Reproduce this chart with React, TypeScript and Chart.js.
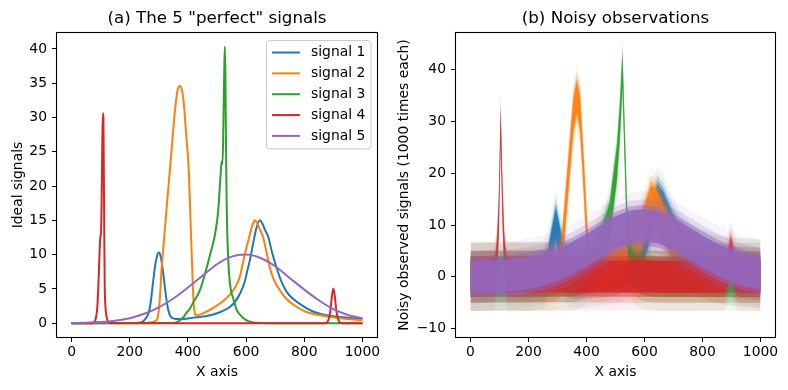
import React, { useEffect, useRef } from "react";
import { Chart, registerables } from "chart.js";

Chart.register(...registerables);

const FONT = "'DejaVu Sans', sans-serif";
const TICK_SIZE = 13.9;
const TITLE_SIZE = 16.7;
const COLORS = ["#1f77b4", "#ff7f0e", "#2ca02c", "#d62728", "#9467bd"];
const signalLabels = ["signal 1", "signal 2", "signal 3", "signal 4", "signal 5"];

const xTicks = [0, 200, 400, 600, 800, 1000];
const yTicksIdeal = [0, 5, 10, 15, 20, 25, 30, 35, 40];
const yTicksNoisy = [-10, 0, 10, 20, 30, 40];

// ---------- (a) ideal signals ----------
const sig1X = [0, 200, 230, 245, 255, 265, 272, 280, 287, 294, 300, 306, 312, 318, 325, 332, 340, 350, 360, 380, 400, 430, 460, 490, 520, 545, 565, 580, 595, 605, 613, 625, 635, 647, 655, 665, 676, 690, 704, 720, 739, 760, 796, 830, 860, 900, 950, 1000];
const sig1Y = [0, 0.02, 0.05, 0.25, 0.7, 1.5, 3.0, 5.9, 8.3, 9.8, 10.3, 9.8, 8.3, 6.3, 3.8, 2.0, 1.0, 0.7, 0.6, 0.6, 0.7, 0.85, 1.0, 1.3, 1.8, 2.4, 3.3, 4.4, 6.0, 7.8, 9.2, 11.8, 13.8, 15.0, 14.6, 13.6, 12.6, 10.2, 8.2, 6.2, 4.6, 3.6, 2.5, 1.7, 1.3, 1.0, 0.8, 0.6];

const sig2X = [0, 230, 270, 285, 292, 297, 302, 306, 309, 316, 323, 330, 338, 348, 358, 365, 372, 379, 386, 394, 403, 409, 415, 419, 423, 428, 440, 460, 490, 520, 545, 565, 580, 590, 600, 612, 622, 630, 638, 648, 658, 670, 681, 695, 716, 740, 773, 810, 850, 890, 940, 1000];
const sig2Y = [0, 0.02, 0.1, 0.25, 0.45, 1.0, 2.8, 5.2, 7.7, 11.2, 14.8, 18.4, 22.3, 27.5, 32, 34.1, 34.6, 34.1, 32, 27.5, 22.3, 15, 7.7, 3.5, 1.6, 1.15, 1.25, 1.6, 2.3, 3.2, 4.2, 5.4, 7.0, 9.0, 10.8, 12.8, 14.3, 15.0, 14.6, 13.6, 12.6, 10.4, 8.2, 6.4, 4.8, 3.5, 2.4, 1.6, 1.2, 0.9, 0.65, 0.45];

const sig3X = [0, 340, 360, 372, 385, 395, 405, 418, 441, 464, 475, 492, 504, 512, 516, 519, 522, 525, 527, 529, 531, 533, 535, 538, 541, 545, 550, 556, 567, 578, 600, 620, 660, 700, 1000];
const sig3Y = [0, 0.02, 0.1, 0.4, 0.9, 1.5, 2.0, 3.0, 4.8, 8.0, 9.8, 12.7, 16.3, 21.4, 23.6, 23.2, 29, 37, 40.3, 36, 26, 18, 13.5, 10, 7.5, 5.6, 4.4, 3.6, 2.0, 1.3, 0.45, 0.15, 0.03, 0, 0];

const sig4X = [0, 70, 76, 82, 86, 89, 91.5, 94, 96, 98, 100, 102, 104, 106, 108, 109.5, 111, 112.5, 114, 116, 119, 123, 128, 135, 870, 878, 884, 890, 895, 900, 905, 910, 916, 922, 930, 1000];
const sig4Y = [0, 0, 0.1, 0.5, 1.3, 2.6, 4.8, 7.5, 10, 12, 12.8, 14, 20, 27, 30.6, 30, 22, 13, 5.5, 2.8, 1.3, 0.5, 0.15, 0, 0, 0.1, 0.6, 1.9, 3.9, 5.05, 3.9, 1.9, 0.6, 0.1, 0, 0];

const sig5X = [0, 50, 100, 150, 200, 250, 300, 350, 400, 450, 500, 550, 600, 650, 700, 750, 800, 850, 900, 950, 1000];
const sig5Y = [0.03, 0.07, 0.17, 0.36, 0.73, 1.37, 2.3, 3.6, 5.2, 6.9, 8.6, 9.7, 10.0, 9.5, 8.3, 6.6, 4.9, 3.35, 2.05, 1.2, 0.7];

// ---------- (b) noisy observations: centre lines ----------
const nz1X = [0, 200, 250, 267, 280, 294, 308, 324, 340, 360, 400, 450, 500, 540, 580, 610, 630, 645, 665, 690, 720, 760, 800, 860, 920, 1000];
const nz1Y = [0, 0.02, 0.3, 1.9, 6.0, 10.2, 6.5, 1.9, 0.8, 0.6, 0.7, 0.95, 1.4, 2.3, 4.4, 8.5, 12.2, 14.7, 13.2, 9.8, 6.2, 3.7, 2.5, 1.4, 0.95, 0.6];

const nz2X = [0, 260, 290, 305, 313, 335, 355, 367, 378, 392, 404, 412, 430, 470, 510, 550, 585, 605, 622, 640, 665, 690, 720, 780, 850, 920, 1000];
const nz2Y = [0, 0.05, 0.3, 1.5, 3.2, 18, 31.5, 34.8, 31.5, 18, 5.1, 1.5, 1.3, 1.9, 3.0, 4.6, 8.0, 11.5, 14.5, 13.8, 10.5, 7.5, 5.0, 2.6, 1.3, 0.8, 0.45];

const nz3X = [0, 360, 390, 420, 450, 480, 505, 515, 524, 532, 540, 548, 560, 580, 610, 650, 1000];
const nz3Y = [0, 0.1, 0.8, 2.5, 6.0, 11.0, 22.0, 30.0, 40.0, 25.0, 10.0, 3.5, 1.5, 0.7, 0.2, 0, 0];

const nz4X = [0, 80, 88, 93, 98, 104, 110, 116, 122, 130, 870, 880, 890, 897, 905, 915, 925, 1000];
const nz4Y = [0, 0.2, 1.5, 5.6, 12.5, 29.5, 15, 5, 1, 0.1, 0, 0.3, 2.2, 4.4, 2.6, 0.5, 0, 0];

const nz5X = [0, 50, 100, 150, 200, 250, 300, 350, 400, 450, 500, 550, 600, 650, 700, 750, 800, 850, 900, 950, 1000];
const nz5Y = [0.03, 0.07, 0.17, 0.36, 0.73, 1.37, 2.3, 3.6, 5.2, 6.9, 8.6, 9.7, 10.0, 9.5, 8.3, 6.6, 4.9, 3.35, 2.05, 1.2, 0.7];

// half-widths of the noise cloud, from sparse fringe to dense core, with opacity
const noiseHalfWidths = [6.6, 5.0, 3.9, 3.1];
const noiseAlphas = [0.08, 0.2, 0.45, 0.9];

function pts(xs: number[], ys: number[]) {
  return xs.map((x, i) => ({ x, y: ys[i] }));
}

function rgba(hex: string, a: number) {
  const n = parseInt(hex.slice(1), 16);
  return `rgba(${(n >> 16) & 255},${(n >> 8) & 255},${n & 255},${a})`;
}

const framePlugin = {
  id: "frameBox",
  afterDatasetsDraw(chart: any) {
    const { ctx, chartArea: a } = chart;
    ctx.save();
    ctx.strokeStyle = "#000";
    ctx.lineWidth = 1.1;
    const l = Math.round(a.left) - 0.5;
    const t = Math.round(a.top) - 0.5;
    const r = Math.round(a.right) + 0.5;
    const b = Math.round(a.bottom) + 0.5;
    ctx.strokeRect(l, t, r - l, b - t);
    ctx.restore();
  },
};

const legendBoxPlugin = {
  id: "legendBox",
  afterDraw(chart: any, _args: any, opts: any) {
    if (!opts || !opts.show) return;
    const { ctx, chartArea } = chart;
    const fs = TICK_SIZE;
    const labels: string[] = opts.labels;
    const colors: string[] = opts.colors;
    ctx.save();
    ctx.font = `${fs}px ${FONT}`;
    const tw = Math.max(...labels.map((l) => ctx.measureText(l).width));
    const pad = 0.4 * fs, hl = 2 * fs, htp = 0.8 * fs, ls = 0.5 * fs;
    const w = pad + hl + htp + tw + pad;
    const h = 2 * pad + labels.length * fs + (labels.length - 1) * ls;
    const x0 = Math.round(chartArea.right - 0.5 * fs - w) + 0.5;
    const y0 = Math.round(chartArea.top + 0.5 * fs) + 0.5;
    const r = 3;
    ctx.beginPath();
    ctx.moveTo(x0 + r, y0);
    ctx.lineTo(x0 + w - r, y0);
    ctx.arcTo(x0 + w, y0, x0 + w, y0 + r, r);
    ctx.lineTo(x0 + w, y0 + h - r);
    ctx.arcTo(x0 + w, y0 + h, x0 + w - r, y0 + h, r);
    ctx.lineTo(x0 + r, y0 + h);
    ctx.arcTo(x0, y0 + h, x0, y0 + h - r, r);
    ctx.lineTo(x0, y0 + r);
    ctx.arcTo(x0, y0, x0 + r, y0, r);
    ctx.closePath();
    ctx.fillStyle = "rgba(255,255,255,0.8)";
    ctx.fill();
    ctx.strokeStyle = "#cccccc";
    ctx.lineWidth = 1;
    ctx.stroke();
    labels.forEach((lab, i) => {
      const y = y0 + pad + i * (fs + ls) + fs / 2 - 0.5;
      ctx.strokeStyle = colors[i];
      ctx.lineWidth = 2;
      ctx.beginPath();
      ctx.moveTo(x0 + pad, y);
      ctx.lineTo(x0 + pad + hl, y);
      ctx.stroke();
      ctx.fillStyle = "#000";
      ctx.textBaseline = "middle";
      ctx.textAlign = "left";
      ctx.fillText(lab, x0 + pad + hl + htp, y);
    });
    ctx.restore();
  },
};

const minusFmt = (v: any) => String(v).replace("-", "\u2212");

function makeScales(yMin: number, yMax: number, yTicks: number[], yTitle: string, yWidth: number, yTitlePad: number) {
  const gridCommon = {
    display: true,
    drawOnChartArea: false,
    drawTicks: true,
    tickLength: 5,
    color: "#000",
    lineWidth: 1,
  };
  return {
    x: {
      type: "linear",
      min: -50,
      max: 1050,
      afterBuildTicks: (s: any) => {
        s.ticks = xTicks.map((v) => ({ value: v }));
      },
      afterFit: (s: any) => {
        s.height = 53;
      },
      grid: gridCommon,
      border: { display: false },
      ticks: { color: "#000", padding: 2.5, font: { family: FONT, size: TICK_SIZE }, maxRotation: 0, autoSkip: false, callback: minusFmt },
      title: { display: true, text: "X axis", color: "#000", font: { family: FONT, size: TICK_SIZE }, padding: { top: 0, bottom: 9.2 } },
    },
    y: {
      type: "linear",
      min: yMin,
      max: yMax,
      afterBuildTicks: (s: any) => {
        s.ticks = yTicks.map((v) => ({ value: v }));
      },
      afterFit: (s: any) => {
        s.width = yWidth;
      },
      grid: gridCommon,
      border: { display: false },
      ticks: { color: "#000", padding: 5, font: { family: FONT, size: TICK_SIZE }, autoSkip: false, callback: minusFmt },
      title: { display: true, text: yTitle, color: "#000", font: { family: FONT, size: TICK_SIZE }, padding: { top: yTitlePad, bottom: 0 } },
    },
  };
}

function idealConfig(): any {
  const sets = [
    pts(sig1X, sig1Y),
    pts(sig2X, sig2Y),
    pts(sig3X, sig3Y),
    pts(sig4X, sig4Y),
    pts(sig5X, sig5Y),
  ];
  return {
    type: "line",
    data: {
      datasets: sets.map((d, i) => ({
        label: signalLabels[i],
        data: d,
        borderColor: COLORS[i],
        backgroundColor: COLORS[i],
        borderWidth: 2,
        pointRadius: 0,
        cubicInterpolationMode: "monotone",
        fill: false,
        order: 10 - i,
      })),
    },
    options: {
      animation: false,
      responsive: false,
      maintainAspectRatio: false,
      layout: { padding: { left: 0, right: 17, top: 0, bottom: 0 } },
      plugins: {
        legend: { display: false },
        tooltip: { enabled: false },
        title: {
          display: true,
          text: '(a) The 5 "perfect" signals',
          color: "#000",
          font: { family: FONT, size: TITLE_SIZE, weight: "normal" },
          padding: { top: 8.5, bottom: 4.5 },
          fullSize: false,
        },
        legendBox: { show: true, labels: signalLabels, colors: COLORS },
      },
      scales: makeScales(-2.015, 42.315, yTicksIdeal, "Ideal signals", 57, 9.7),
    },
    plugins: [framePlugin, legendBoxPlugin],
  };
}

function noisyConfig(): any {
  const centres = [
    { x: nz1X, y: nz1Y },
    { x: nz2X, y: nz2Y },
    { x: nz3X, y: nz3Y },
    { x: nz4X, y: nz4Y },
    { x: nz5X, y: nz5Y },
  ];
  const L = noiseHalfWidths.length;
  const datasets: any[] = [];
  centres.forEach((c, i) => {
    noiseHalfWidths.forEach((hw, k) => {
      const base = i * 2 * L + k * 2;
      const common = {
        borderColor: "rgba(0,0,0,0)",
        borderWidth: 0,
        pointRadius: 0,
        tension: 0,
      };
      datasets.push({
        ...common,
        label: signalLabels[i],
        data: pts(c.x, c.y.map((v) => v + hw)),
        fill: "+1",
        backgroundColor: rgba(COLORS[i], noiseAlphas[k]),
        order: 200 - base,
      });
      datasets.push({
        ...common,
        label: signalLabels[i] + " low",
        data: pts(c.x, c.y.map((v) => v - hw)),
        fill: false,
        backgroundColor: "rgba(0,0,0,0)",
        order: 200 - base - 1,
      });
    });
  });
  return {
    type: "line",
    data: { datasets },
    options: {
      animation: false,
      responsive: false,
      maintainAspectRatio: false,
      layout: { padding: { left: 0, right: 13, top: 0, bottom: 0 } },
      plugins: {
        legend: { display: false },
        tooltip: { enabled: false },
        title: {
          display: true,
          text: "(b) Noisy observations",
          color: "#000",
          font: { family: FONT, size: TITLE_SIZE, weight: "normal" },
          padding: { top: 8.5, bottom: 4.5 },
          fullSize: false,
        },
      },
      scales: makeScales(-11.62, 47.07, yTicksNoisy, "Noisy observed signals (1000 times each)", 62, 1.7),
    },
    plugins: [framePlugin],
  };
}

function ChartPanel({ make, left }: { make: () => any; left: number }) {
  const ref = useRef<HTMLCanvasElement | null>(null);
  useEffect(() => {
    if (!ref.current) return;
    const chart = new Chart(ref.current, make());
    return () => chart.destroy();
  }, []);
  return (
    <div style={{ position: "absolute", left, top: 0, width: 394, height: 390 }}>
      <canvas ref={ref} width={394} height={390} style={{ width: 394, height: 390, display: "block" }} />
    </div>
  );
}

export default function App() {
  return (
    <div style={{ position: "absolute", left: 0, top: 0, width: 788, height: 390, background: "#fff" }}>
      <ChartPanel make={idealConfig} left={0} />
      <ChartPanel make={noisyConfig} left={394} />
    </div>
  );
}
